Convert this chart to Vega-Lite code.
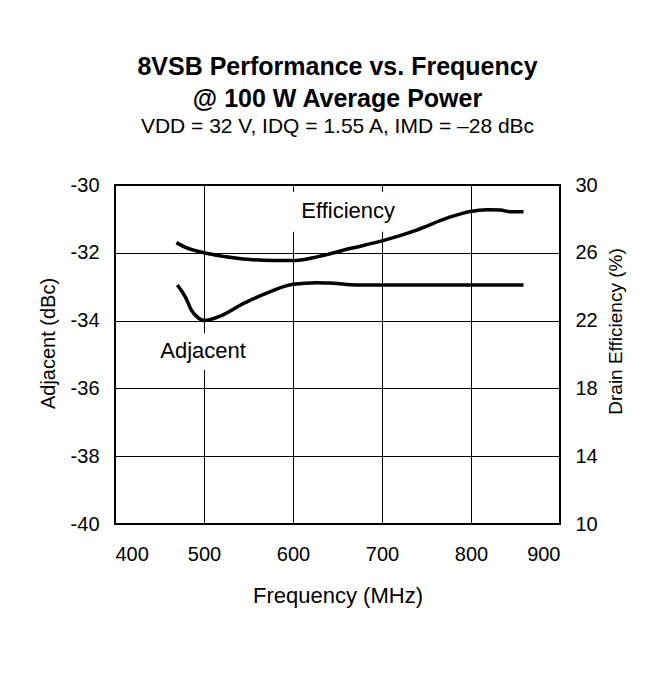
{
  "$schema": "https://vega.github.io/schema/vega-lite/v6.json",
  "width": 445,
  "height": 339,
  "autosize": {"type": "none"},
  "padding": {"left": 115, "top": 185, "right": 105, "bottom": 149},
  "background": "white",
  "config": {
    "font": "Liberation Sans",
    "view": {"stroke": "black", "strokeWidth": 2},
    "axis": {"labelFont": "Liberation Sans", "titleFont": "Liberation Sans", "labelColor": "black", "titleColor": "black", "titleFontWeight": "normal", "domain": false, "ticks": false}
  },
  "title": {
    "text": ["8VSB Performance vs. Frequency", "@ 100 W Average Power"],
    "subtitle": "VDD = 32 V, IDQ = 1.55 A, IMD = –28 dBc",
    "fontSize": 25,
    "fontWeight": "bold",
    "lineHeight": 32,
    "subtitleFontSize": 21,
    "subtitleColor": "black",
    "subtitlePadding": 4,
    "color": "black",
    "anchor": "middle",
    "offset": 38
  },
  "datasets": {
    "adjacent": [
      {"freq": 470, "adj": -32.95},
      {"freq": 479, "adj": -33.3},
      {"freq": 486, "adj": -33.7},
      {"freq": 494, "adj": -33.93},
      {"freq": 500, "adj": -34.0},
      {"freq": 518, "adj": -33.87},
      {"freq": 544, "adj": -33.5},
      {"freq": 574, "adj": -33.15},
      {"freq": 600, "adj": -32.93},
      {"freq": 627, "adj": -32.88},
      {"freq": 645, "adj": -32.9},
      {"freq": 672, "adj": -32.95},
      {"freq": 705, "adj": -32.95},
      {"freq": 760, "adj": -32.95},
      {"freq": 810, "adj": -32.95},
      {"freq": 859, "adj": -32.95}
    ],
    "efficiency": [
      {"freq": 469, "eff": 26.6},
      {"freq": 480, "eff": 26.3},
      {"freq": 500, "eff": 26.0},
      {"freq": 514, "eff": 25.86},
      {"freq": 544, "eff": 25.64},
      {"freq": 578, "eff": 25.54},
      {"freq": 600, "eff": 25.54},
      {"freq": 627, "eff": 25.76},
      {"freq": 664, "eff": 26.25},
      {"freq": 700, "eff": 26.7},
      {"freq": 739, "eff": 27.34},
      {"freq": 776, "eff": 28.1},
      {"freq": 799, "eff": 28.44},
      {"freq": 818, "eff": 28.54},
      {"freq": 833, "eff": 28.52},
      {"freq": 844, "eff": 28.42},
      {"freq": 859, "eff": 28.42}
    ],
    "labels": [
      {"freq": 662, "adj": -30.97, "text": "Efficiency"},
      {"freq": 499, "adj": -35.1, "text": "Adjacent"}
    ],
    "boxes": [
      {"f1": 590, "f2": 722, "a1": -30.2, "a2": -31.38},
      {"f1": 452, "f2": 548, "a1": -34.37, "a2": -35.46}
    ]
  },
  "layer": [
    {
      "layer": [
        {
          "data": {"name": "boxes"},
          "mark": {"type": "rect", "color": "white", "stroke": null},
          "encoding": {
            "x": {"field": "f1", "type": "quantitative", "scale": {"domain": [400, 900], "nice": false}, "axis": {"values": [400, 500, 600, 700, 800, 900], "title": "Frequency (MHz)", "grid": true, "gridColor": "black", "gridWidth": 1, "gridOpacity": 1, "labelFontSize": 20, "labelPadding": 20, "titleFontSize": 22, "titlePadding": 21}},
            "x2": {"field": "f2"},
            "y": {"field": "a1", "type": "quantitative", "scale": {"domain": [-40, -30], "nice": false}, "axis": {"values": [-40, -38, -36, -34, -32, -30], "labelExpr": "'' + datum.value", "title": "Adjacent (dBc)", "grid": true, "gridColor": "black", "gridWidth": 1, "gridOpacity": 1, "labelFontSize": 20, "labelPadding": 16, "titleFontSize": 20, "titlePadding": 12, "titleY": 158}},
            "y2": {"field": "a2"}
          }
        },
        {
          "data": {"name": "adjacent"},
          "mark": {"type": "line", "color": "black", "strokeWidth": 3.5, "interpolate": "monotone"},
          "encoding": {
            "x": {"field": "freq", "type": "quantitative"},
            "y": {"field": "adj", "type": "quantitative"}
          }
        },
        {
          "data": {"name": "labels"},
          "mark": {"type": "text", "fontSize": 22, "color": "black", "baseline": "alphabetic", "align": "center"},
          "encoding": {
            "x": {"field": "freq", "type": "quantitative"},
            "y": {"field": "adj", "type": "quantitative"},
            "text": {"field": "text"}
          }
        }
      ]
    },
    {
      "data": {"name": "efficiency"},
      "mark": {"type": "line", "color": "black", "strokeWidth": 3.5, "interpolate": "monotone"},
      "encoding": {
        "x": {"field": "freq", "type": "quantitative"},
        "y": {"field": "eff", "type": "quantitative", "scale": {"domain": [10, 30], "nice": false}, "axis": {"orient": "right", "values": [10, 14, 18, 22, 26, 30], "title": "Drain Efficiency (%)", "grid": false, "labelFontSize": 20, "labelPadding": 15, "titleFontSize": 19, "titlePadding": 9, "titleAngle": -90, "titleBaseline": "top", "titleY": 146}}
      }
    }
  ],
  "resolve": {"scale": {"y": "independent"}}
}
